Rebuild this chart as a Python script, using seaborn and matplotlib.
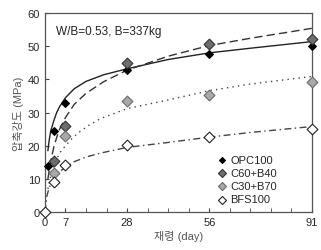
import numpy as np
import pandas as pd
import matplotlib
matplotlib.use("Agg")
import matplotlib.pyplot as plt
import seaborn as sns

sns.set_style("ticks")
plt.rcParams['font.family'] = ['Liberation Sans', 'Noto Sans CJK KR', 'DejaVu Sans']

# measured points
names = ["OPC100", "C60+B40", "C30+B70", "BFS100"]
opc_days = [1, 3, 7, 28, 56, 91]
opc_vals = [14, 24.5, 32.8, 42.8, 47.8, 50]
c60_days = [3, 7, 28, 56, 91]
c60_vals = [15.3, 26, 44.8, 50.6, 52.2]
c30_days = [3, 7, 28, 56, 91]
c30_vals = [11.8, 23, 33.5, 35.4, 39.1]
bfs_days = [0, 3, 7, 28, 56, 91]
bfs_vals = [0, 9, 14.3, 20.3, 22.5, 25.2]

# fitted curves
opc_fit_days = [1, 1.5, 2, 3, 4, 5, 7, 10, 14, 20, 28, 42, 56, 70, 91]
opc_fit_vals = [18.5, 22, 24.5, 27.5, 30, 31.8, 34.5, 37.2, 39.4, 41.4, 43.2, 46, 48, 49.4, 51.4]
c60_fit_days = [1, 2, 3, 4, 5, 7, 10, 14, 20, 28, 42, 56, 70, 91]
c60_fit_vals = [10, 15.5, 19.5, 22.5, 25, 28.5, 32.5, 35.8, 39.3, 42.8, 47, 50.2, 52.4, 55.4]
c30_fit_days = [1, 2, 3.5, 5, 7, 9, 11.5, 15, 19, 28, 42, 56, 70, 91]
c30_fit_vals = [7, 11, 15, 17.8, 20, 22, 24, 26.2, 28.2, 31.2, 33.8, 36.6, 38.6, 40.9]
bfs_fit_days = [0, 0.7, 1.5, 3, 5, 7, 10, 14, 19, 28, 42, 56, 70, 91]
bfs_fit_vals = [0, 5, 7.5, 10, 12.2, 13.5, 15.2, 16.6, 17.8, 19.5, 21, 22.6, 24, 25.8]

pts = [(opc_days, opc_vals), (c60_days, c60_vals), (c30_days, c30_vals), (bfs_days, bfs_vals)]
fits = [(opc_fit_days, opc_fit_vals), (c60_fit_days, c60_fit_vals),
        (c30_fit_days, c30_fit_vals), (bfs_fit_days, bfs_fit_vals)]

face = ["black", "#6e6e6e", "#a9a9a9", "white"]
edge = ["black", "#333333", "#6a6a6a", "#222222"]
msize = [16, 30, 30, 30]
dash = [None, (6, 3), (1, 3), (5, 2.5, 1, 2.5)]
lcol = ["#222222", "#333333", "#444444", "#444444"]

fig = plt.figure(figsize=(3.21, 2.51), dpi=100)
ax = fig.add_axes([0.140, 0.151, 0.832, 0.793])

for i, name in enumerate(names):
    fd = pd.DataFrame({"day": fits[i][0], "val": fits[i][1]})
    sns.lineplot(data=fd, x="day", y="val", ax=ax, color=lcol[i], lw=1.0,
                 legend=False, sort=False)
    l = ax.lines[-1]
    if dash[i] is not None:
        l.set_dashes(dash[i])

for i, name in enumerate(names):
    pdf = pd.DataFrame({"day": pts[i][0], "val": pts[i][1]})
    sns.scatterplot(data=pdf, x="day", y="val", ax=ax, marker="D", s=msize[i],
                    color=face[i], edgecolor=edge[i], linewidth=0.8,
                    label=name, clip_on=False, zorder=5)

ax.set_xlim(0, 91)
ax.set_ylim(0, 60)
ax.set_xticks([0, 7, 28, 56, 91])
ax.set_xticks(np.arange(0, 92, 7), minor=True)
ax.set_yticks(np.arange(0, 61, 10))
ax.tick_params(direction="in", labelsize=8, color="#444444", length=3)
ax.tick_params(which="minor", direction="in", length=3, color="#444444")
for s in ax.spines.values():
    s.set_color("#555555")
    s.set_linewidth(0.9)

ax.set_xlabel("재령 (day)", fontsize=8, color="#555555", labelpad=2)
ax.set_ylabel("압축강도 (MPa)", fontsize=8, color="#555555", labelpad=3)
ax.text(0.04, 0.94, "W/B=0.53, B=337kg", transform=ax.transAxes, fontsize=8.5,
        va="top", ha="left", color="#222222")

leg = ax.legend(loc="upper left", bbox_to_anchor=(0.614, 0.327), frameon=False,
                fontsize=8, handletextpad=0.2, labelspacing=0.29,
                handlelength=1.0, borderpad=0.2, markerscale=0.75)

fig.savefig("out.png", dpi=100)
